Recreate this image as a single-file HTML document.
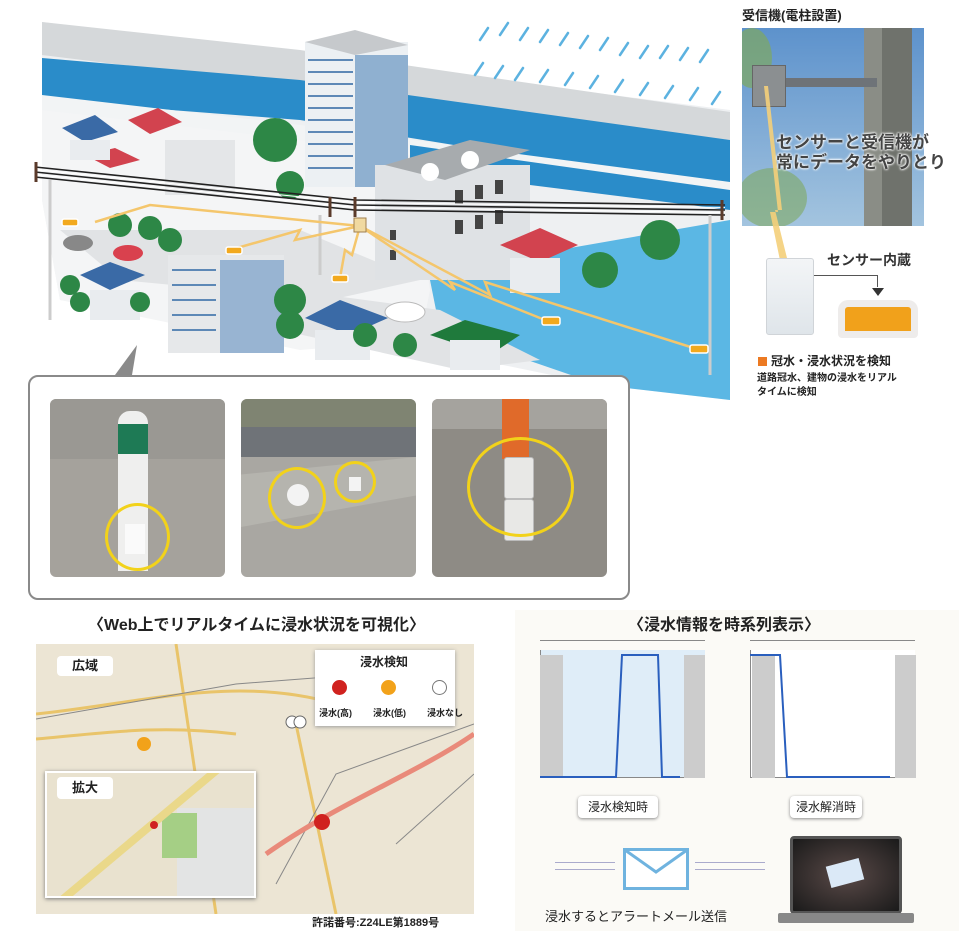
<!DOCTYPE html>
<html><head><meta charset="utf-8"><style>
*{margin:0;padding:0;box-sizing:border-box}
body{width:980px;height:931px;background:#fff;position:relative;overflow:hidden;font-family:"Liberation Sans","Noto Sans CJK JP",sans-serif;color:#222}
.a{position:absolute}
.t{font-weight:bold}
.ph{position:absolute;border-radius:6px;overflow:hidden}
</style></head><body>
<!-- top illustration -->
<svg class="a" style="left:0;top:0" width="740" height="410">
<rect x="0" y="0" width="740" height="410" fill="#fff"/>
<polygon points="42,22 730,110 730,400 600,385 430,350 60,300 42,200" fill="#eef0f2"/>
<polygon points="42,22 300,50 730,112 730,140 42,55" fill="#d5d8da"/>
<polygon points="42,58 300,80 730,140 730,190 300,120 42,100" fill="#2a8cc9"/>
<polygon points="42,95 300,125 730,182 730,195 42,110" fill="#f2f4f5"/>
<polygon points="410,145 730,190 730,210 410,170" fill="#2a8cc9"/>
<polygon points="430,280 530,255 730,220 730,400 600,385 440,330" fill="#5bb7e4"/>
<polygon points="42,110 300,140 410,160 430,290 420,340 300,350 60,300 42,200" fill="#f4f5f6"/>
<polygon points="60,230 300,230 420,280 330,300 120,280" fill="#e1e3e5"/>
<polygon points="290,290 440,310 540,360 460,370 280,330" fill="#e1e3e5"/>
<!-- tall building -->
<rect x="305" y="42" width="103" height="145" fill="#ecf0f3"/>
<polygon points="305,42 355,30 408,45 355,55" fill="#c6c9cc"/>
<rect x="355" y="55" width="53" height="132" fill="#8fb0d0"/>
<g stroke="#5d88b6" stroke-width="2"><path d="M308,60h45M308,72h45M308,84h45M308,96h45M308,108h45M308,120h45M308,132h45M308,144h45M308,156h45M308,168h45"/></g>
<!-- right building -->
<rect x="375" y="165" width="155" height="115" fill="#dfe2e5"/>
<polygon points="385,165 470,140 530,150 445,180" fill="#a7abae"/>
<circle cx="430" cy="172" r="9" fill="#fff"/><circle cx="470" cy="160" r="9" fill="#fff"/>
<g fill="#444"><rect x="455" y="190" width="8" height="14"/><rect x="475" y="185" width="8" height="14"/><rect x="495" y="180" width="8" height="14"/><rect x="455" y="220" width="8" height="14"/><rect x="475" y="215" width="8" height="14"/><rect x="495" y="210" width="8" height="14"/><rect x="390" y="230" width="6" height="10"/><rect x="390" y="250" width="6" height="10"/></g>
<!-- small buildings -->
<rect x="165" y="140" width="70" height="55" fill="#e4e6e8"/>
<rect x="168" y="255" width="116" height="98" fill="#e6e8ea"/>
<rect x="220" y="260" width="64" height="93" fill="#98b4d2"/>
<g stroke="#5d88b6" stroke-width="2"><path d="M172,270h44M172,285h44M172,300h44M172,315h44M172,330h44"/></g>
<!-- houses -->
<g fill="#3a6aa6"><polygon points="62,128 95,115 118,132 85,142"/><polygon points="305,318 340,300 388,318 350,335"/><polygon points="80,275 110,262 145,275 110,290"/></g>
<g fill="#d2434f"><polygon points="128,120 158,108 182,122 150,134"/><polygon points="500,245 540,228 578,245 540,262"/><polygon points="85,155 115,148 140,160 110,168"/></g>
<g fill="#e9ecef"><rect x="70" y="140" width="40" height="20"/><rect x="90" y="290" width="50" height="30"/><rect x="315" y="330" width="55" height="30"/><rect x="510" y="258" width="50" height="35"/></g>
<polygon points="430,335 465,320 520,335 490,355" fill="#1f7a3c"/>
<rect x="450" y="340" width="50" height="30" fill="#e9ecef"/>
<!-- trees -->
<g fill="#2d8746"><circle cx="275" cy="140" r="22"/><circle cx="290" cy="300" r="16"/><circle cx="290" cy="325" r="14"/><circle cx="600" cy="270" r="18"/><circle cx="660" cy="240" r="20"/><circle cx="120" cy="225" r="12"/><circle cx="150" cy="228" r="12"/><circle cx="170" cy="240" r="12"/><circle cx="70" cy="285" r="10"/><circle cx="80" cy="302" r="10"/><circle cx="140" cy="302" r="10"/><circle cx="365" cy="335" r="12"/><circle cx="405" cy="345" r="12"/><circle cx="290" cy="185" r="14"/></g>
<!-- cars -->
<ellipse cx="78" cy="243" rx="15" ry="8" fill="#888"/>
<ellipse cx="128" cy="253" rx="15" ry="8" fill="#d9414e"/>
<ellipse cx="405" cy="312" rx="20" ry="10" fill="#fff" stroke="#bbb"/>
<!-- rain -->
<g stroke="#5cb2e0" stroke-width="2.5" stroke-linecap="round"><path d="M480,40 l8,-12"/><path d="M500,35 l8,-12"/><path d="M520,40 l8,-12"/><path d="M540,42 l8,-12"/><path d="M560,45 l8,-12"/><path d="M580,48 l8,-12"/><path d="M600,50 l8,-12"/><path d="M620,55 l8,-12"/><path d="M640,58 l8,-12"/><path d="M660,58 l8,-12"/><path d="M680,60 l8,-12"/><path d="M700,62 l8,-12"/><path d="M475,75 l8,-12"/><path d="M495,78 l8,-12"/><path d="M515,80 l8,-12"/><path d="M540,82 l8,-12"/><path d="M565,85 l8,-12"/><path d="M590,88 l8,-12"/><path d="M615,92 l8,-12"/><path d="M640,95 l8,-12"/><path d="M665,98 l8,-12"/><path d="M690,100 l8,-12"/><path d="M712,104 l8,-12"/></g>
<!-- wires -->
<g stroke="#222" stroke-width="1.6" fill="none"><path d="M35,167 L355,200 L725,205"/><path d="M35,172 L355,205 L725,210"/><path d="M35,177 L355,210 L725,215"/></g>
<g stroke="#fff" stroke-width="1" fill="none"><path d="M35,169.5 L355,202.5 L725,207.5"/><path d="M35,174.5 L355,207.5 L725,212.5"/></g>
<g stroke="#5a3a2a" stroke-width="3"><path d="M36,162v20M330,197v20M355,197v20M722,200v20"/></g>
<g stroke="#ccc" stroke-width="3"><path d="M50,180v140M710,215v160M320,215v60"/></g>
<!-- signals -->
<g stroke="#f4c66c" stroke-width="2.5" fill="none"><path d="M360,226 L455,290 L450,282 L550,322"/><path d="M360,226 L490,295 L485,282 L700,350"/><path d="M360,226 L295,240 L300,230 L230,250"/><path d="M360,226 L150,205 L95,222"/><path d="M360,226 L352,255 L345,250 L340,278"/></g>
<rect x="354" y="218" width="12" height="14" fill="#f0d9a0" stroke="#a08050"/>
<g fill="#f2a91e" stroke="#fff" stroke-width="1.5"><rect x="62" y="219" width="16" height="7" rx="2"/><rect x="226" y="247" width="16" height="7" rx="2"/><rect x="332" y="275" width="16" height="7" rx="2"/><rect x="542" y="317" width="18" height="8" rx="2"/><rect x="690" y="345" width="18" height="8" rx="2"/></g>
<polygon points="115,375 137,345 132,375" fill="#8a8a8a"/>
</svg>
<!-- right panel -->
<div class="a t" style="left:742px;top:5px;font-size:13px">受信機(電柱設置)</div>
<div class="a" style="left:742px;top:28px;width:182px;height:198px;background:linear-gradient(#5d92cc,#a3c4df);overflow:hidden">
  <div class="a" style="left:-10px;top:0;width:40px;height:60px;border-radius:50%;background:#7fa860;opacity:.7"></div>
  <div class="a" style="left:-5px;top:140px;width:70px;height:60px;border-radius:50%;background:#7fa860;opacity:.6"></div>
  <div class="a" style="left:122px;top:0;width:48px;height:198px;background:#8a8d86"></div>
  <div class="a" style="left:140px;top:0;width:30px;height:198px;background:#6f726c"></div>
  <div class="a" style="left:40px;top:50px;width:95px;height:9px;background:#6e7378"></div>
  <div class="a" style="left:10px;top:37px;width:34px;height:42px;background:#8b8f91;border:1px solid #666"></div>
</div>
<svg class="a" style="left:742px;top:40px" width="120" height="260"><polygon points="22,46 26,46 40,170 33,170 48,230 40,230 28,172 36,172" fill="#f4cf7a" opacity=".9"/></svg>
<div class="a t" style="left:776px;top:133px;font-size:17px;color:#444;line-height:20px;text-shadow:0 0 2px #fff,0 0 2px #fff,0 0 3px #fff">センサーと受信機が<br>常にデータをやりとり</div>
<div class="a" style="left:766px;top:258px;width:48px;height:77px;background:linear-gradient(#f3f5f7,#dfe5ea);border:1px solid #d0d4d8;border-radius:3px"></div>
<div class="a" style="left:814px;top:275px;width:64px;height:12px;border-top:1px solid #555;border-right:1px solid #555"></div>
<div class="a" style="left:872px;top:288px;width:0;height:0;border-left:6px solid transparent;border-right:6px solid transparent;border-top:8px solid #333"></div>
<div class="a t" style="left:827px;top:250px;font-size:14px;color:#333">センサー内蔵</div>
<div class="a" style="left:838px;top:300px;width:80px;height:38px;background:#f1a11b;border:7px solid #eeeceb;border-radius:10px 10px 4px 4px"></div>
<div class="a" style="left:758px;top:357px;width:9px;height:9px;background:#ec7a22"></div>
<div class="a t" style="left:771px;top:352px;font-size:12px">冠水・浸水状況を検知</div>
<div class="a" style="left:757px;top:372px;font-size:10px;line-height:14px;font-weight:bold">道路冠水、建物の浸水をリアル<br>タイムに検知</div>
<!-- photos box -->
<div class="a" style="left:28px;top:375px;width:602px;height:225px;border:2px solid #8a8a8a;border-radius:10px;background:#fff"></div>
<div class="ph" style="left:50px;top:399px;width:175px;height:178px;background:#a5a29c">
  <div class="a" style="left:0;top:0;width:175px;height:60px;background:#9a9893"></div>
  <div class="a" style="left:68px;top:12px;width:30px;height:160px;background:#efefee;border-radius:12px 12px 0 0"></div>
  <div class="a" style="left:68px;top:25px;width:30px;height:30px;background:#1e7a55"></div>
  <div class="a" style="left:75px;top:125px;width:20px;height:30px;background:#fafafa"></div>
  <div class="a" style="left:55px;top:104px;width:65px;height:68px;border:3px solid #f2d21a;border-radius:50%"></div>
</div>
<div class="ph" style="left:241px;top:399px;width:175px;height:178px;background:#a9a7a2">
  <div class="a" style="left:0;top:0;width:175px;height:28px;background:#7f8472"></div>
  <div class="a" style="left:0;top:28px;width:175px;height:30px;background:#6f7378"></div>
  <div class="a" style="left:0;top:58px;width:175px;height:70px;background:#b5b4ae;clip-path:polygon(0 25%,100% 0,100% 55%,0 100%)"></div>
  <div class="a" style="left:46px;top:85px;width:22px;height:22px;background:#f3f3f3;border-radius:50%"></div>
  <div class="a" style="left:108px;top:78px;width:12px;height:14px;background:#f3f3f3"></div>
  <div class="a" style="left:27px;top:68px;width:58px;height:62px;border:3px solid #f2d21a;border-radius:50%"></div>
  <div class="a" style="left:93px;top:62px;width:42px;height:42px;border:3px solid #f2d21a;border-radius:50%"></div>
</div>
<div class="ph" style="left:432px;top:399px;width:175px;height:178px;background:#8e8b85">
  <div class="a" style="left:0;top:0;width:175px;height:30px;background:#a5a39e"></div>
  <div class="a" style="left:70px;top:0;width:27px;height:60px;background:#e06a2a"></div>
  <div class="a" style="left:72px;top:58px;width:30px;height:42px;background:#e8e8e6;border:1px solid #bbb;border-radius:3px"></div>
  <div class="a" style="left:72px;top:100px;width:30px;height:42px;background:#e8e8e6;border:1px solid #bbb;border-radius:3px"></div>
  <div class="a" style="left:35px;top:38px;width:107px;height:100px;border:3px solid #f2d21a;border-radius:50%"></div>
</div>
<!-- map section -->
<div class="a t" style="left:88px;top:611px;font-size:16px">〈Web上でリアルタイムに浸水状況を可視化〉</div>
<div class="a" style="left:36px;top:644px;width:438px;height:270px;background:#ece5d4"></div>
<svg class="a" style="left:36px;top:644px" width="438" height="270"><g fill="none" stroke="#e9c46a" stroke-width="3"><path d="M0,70 C100,60 200,30 300,60"/><path d="M140,0 L180,270"/><path d="M260,80 L300,270"/><path d="M0,95 C60,90 120,80 200,90"/></g><g fill="none" stroke="#888" stroke-width="1"><path d="M0,75 L200,40 L330,30"/><path d="M240,240 L300,130 L438,80"/><path d="M360,200 L438,130"/></g><path d="M230,210 C300,160 380,130 438,90" stroke="#e98a7a" stroke-width="5" fill="none"/><circle cx="286" cy="178" r="8" fill="#d0221f"/><circle cx="108" cy="100" r="7" fill="#f2a21a"/><circle cx="256" cy="78" r="6" fill="#fff" stroke="#666"/><circle cx="264" cy="78" r="6" fill="#fff" stroke="#666"/></svg>
<div class="a" style="left:315px;top:650px;width:140px;height:76px;background:#fff;box-shadow:0 1px 4px #999"></div>
<div class="a t" style="left:360px;top:653px;font-size:12px">浸水検知</div>
<div class="a" style="left:332px;top:680px;width:15px;height:15px;border-radius:50%;background:#d0221f"></div>
<div class="a" style="left:381px;top:680px;width:15px;height:15px;border-radius:50%;background:#f2a21a"></div>
<div class="a" style="left:432px;top:680px;width:15px;height:15px;border-radius:50%;background:#fff;border:1px solid #777"></div>
<div class="a t" style="left:319px;top:706px;font-size:9px;word-spacing:8px">浸水(高)&nbsp;&nbsp;浸水(低)&nbsp;&nbsp;浸水なし</div>
<div class="a t" style="left:57px;top:656px;width:56px;height:20px;background:#fff;border-radius:4px;font-size:13px;text-align:center;line-height:20px">広域</div>
<div class="a" style="left:45px;top:771px;width:211px;height:127px;background:#e9e2cf;border:2px solid #fff;box-shadow:0 1px 4px #777;overflow:hidden">
  <div class="a" style="left:130px;top:35px;width:85px;height:95px;background:#e3e4e4"></div>
  <div class="a" style="left:115px;top:40px;width:35px;height:45px;background:#a5cf85"></div>
  <div class="a" style="left:-20px;top:60px;width:220px;height:8px;background:#ead88a;transform:rotate(-40deg)"></div>
  <div class="a" style="left:103px;top:48px;width:8px;height:8px;border-radius:50%;background:#d0221f"></div>
</div>
<div class="a t" style="left:57px;top:777px;width:56px;height:22px;background:#fff;border-radius:4px;font-size:13px;text-align:center;line-height:22px">拡大</div>
<div class="a t" style="left:312px;top:914px;font-size:11px">許諾番号:Z24LE第1889号</div>
<!-- charts -->
<div class="a" style="left:515px;top:610px;width:444px;height:321px;background:#fbfaf6"></div>
<div class="a t" style="left:628px;top:611px;font-size:16px">〈浸水情報を時系列表示〉</div>
<div class="a" style="left:540px;top:650px;width:165px;height:128px;background:#dfedf8;border-left:1px solid #888;border-bottom:1px solid #888"></div>
<div class="a" style="left:540px;top:655px;width:23px;height:123px;background:#ccc"></div>
<div class="a" style="left:684px;top:655px;width:21px;height:123px;background:#ccc"></div>
<div class="a" style="left:540px;top:640px;width:165px;height:1px;background:#888"></div>
<svg class="a" style="left:540px;top:650px" width="170" height="130"><path d="M0,127 L76,127 L82,5 L118,5 L122,127 L140,127" stroke="#2a5fbe" stroke-width="2" fill="none"/></svg>
<div class="a" style="left:750px;top:650px;width:165px;height:128px;background:#fff;border-left:1px solid #888;border-bottom:1px solid #888"></div>
<div class="a" style="left:752px;top:655px;width:23px;height:123px;background:#ccc"></div>
<div class="a" style="left:895px;top:655px;width:21px;height:123px;background:#ccc"></div>
<div class="a" style="left:750px;top:640px;width:165px;height:1px;background:#888"></div>
<svg class="a" style="left:750px;top:650px" width="170" height="130"><path d="M0,5 L30,5 L37,127 L140,127" stroke="#2a5fbe" stroke-width="2" fill="none"/></svg>
<div class="a" style="left:578px;top:796px;width:80px;height:22px;background:#fff;box-shadow:0 1px 3px #888;border-radius:4px;font-size:12px;text-align:center;line-height:22px">浸水検知時</div>
<div class="a" style="left:790px;top:796px;width:72px;height:22px;background:#fff;box-shadow:0 1px 3px #888;border-radius:4px;font-size:12px;text-align:center;line-height:22px">浸水解消時</div>
<div class="a" style="left:623px;top:848px;width:66px;height:42px;border:3px solid #6fb3df;background:#fff"></div>
<svg class="a" style="left:623px;top:848px" width="66" height="42"><path d="M2,2 L33,24 L64,2" stroke="#6fb3df" stroke-width="3" fill="none"/></svg>
<div class="a" style="left:555px;top:862px;width:60px;height:8px;border-top:1px solid #aac;border-bottom:1px solid #aac"></div>
<div class="a" style="left:695px;top:862px;width:70px;height:8px;border-top:1px solid #aac;border-bottom:1px solid #aac"></div>
<div class="a" style="left:545px;top:906px;font-size:13px">浸水するとアラートメール送信</div>
<div class="a" style="left:790px;top:836px;width:112px;height:78px;background:radial-gradient(#5a4a48,#1a1a1a);border:3px solid #555;border-radius:4px"></div>
<div class="a" style="left:828px;top:862px;width:34px;height:22px;background:#dbe9f7;transform:rotate(-15deg)"></div>
<div class="a" style="left:778px;top:913px;width:136px;height:10px;background:#888;border-radius:2px"></div>
</body></html>
